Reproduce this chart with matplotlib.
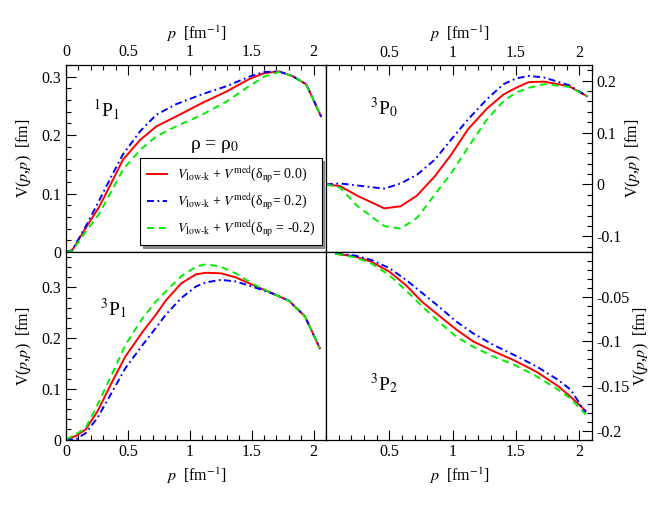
import matplotlib
matplotlib.use("Agg")
import matplotlib.pyplot as plt
from matplotlib.ticker import MultipleLocator, FuncFormatter

plt.rcParams['font.family'] = ['Liberation Serif', 'DejaVu Serif']
plt.rcParams['mathtext.fontset'] = 'stix'
plt.rcParams['axes.unicode_minus'] = False
plt.rcParams['lines.scale_dashes'] = False

# 1P1 channel
p_1p1 = [0, 0.05, 0.15, 0.27, 0.38, 0.46, 0.6, 0.73, 0.89, 1.1, 1.3, 1.48, 1.6, 1.72, 1.83, 1.94, 2.06]
v_1p1_00 = [0, 0.003, 0.038, 0.078, 0.124, 0.158, 0.192, 0.215, 0.232, 0.255, 0.275, 0.296, 0.306, 0.309, 0.301, 0.287, 0.232]
v_1p1_p2 = [0, 0.003, 0.040, 0.089, 0.135, 0.167, 0.207, 0.235, 0.253, 0.270, 0.284, 0.300, 0.308, 0.309, 0.301, 0.287, 0.232]
v_1p1_m2 = [0, 0.002, 0.032, 0.066, 0.109, 0.141, 0.175, 0.198, 0.215, 0.235, 0.258, 0.284, 0.300, 0.308, 0.301, 0.287, 0.232]

# 3P0 channel
p_3p0 = [0.0, 0.11, 0.25, 0.46, 0.59, 0.72, 0.86, 0.99, 1.12, 1.27, 1.40, 1.50, 1.60, 1.72, 1.92, 2.06]
v_3p0_00 = [0, -0.003, -0.022, -0.046, -0.042, -0.021, 0.016, 0.058, 0.106, 0.146, 0.173, 0.186, 0.197, 0.198, 0.189, 0.170]
v_3p0_p2 = [0, 0.002, -0.002, -0.008, 0.002, 0.019, 0.048, 0.087, 0.125, 0.164, 0.193, 0.204, 0.209, 0.206, 0.191, 0.170]
v_3p0_m2 = [0, -0.006, -0.042, -0.080, -0.085, -0.064, -0.019, 0.022, 0.071, 0.125, 0.160, 0.177, 0.186, 0.193, 0.188, 0.170]

# 3P1 channel
p_3p1 = [0, 0.08, 0.16, 0.255, 0.375, 0.48, 0.62, 0.725, 0.805, 0.93, 1.05, 1.13, 1.25, 1.37, 1.50, 1.66, 1.80, 1.93, 2.05]
v_3p1_00 = [0, 0.007, 0.020, 0.056, 0.115, 0.164, 0.213, 0.246, 0.274, 0.308, 0.326, 0.329, 0.328, 0.320, 0.306, 0.289, 0.274, 0.243, 0.180]
v_3p1_p2 = [0, 0.000, 0.013, 0.043, 0.095, 0.141, 0.187, 0.220, 0.246, 0.279, 0.302, 0.310, 0.315, 0.312, 0.302, 0.289, 0.274, 0.243, 0.180]
v_3p1_m2 = [0, 0.010, 0.023, 0.069, 0.131, 0.187, 0.240, 0.272, 0.292, 0.322, 0.341, 0.346, 0.341, 0.328, 0.308, 0.289, 0.274, 0.243, 0.180]

# 3P2 channel
p_3p2 = [0.08, 0.23, 0.36, 0.50, 0.63, 0.76, 0.89, 1.03, 1.16, 1.32, 1.48, 1.66, 1.83, 1.93, 2.05]
v_3p2_00 = [-0.002, -0.005, -0.011, -0.022, -0.037, -0.056, -0.071, -0.087, -0.100, -0.111, -0.121, -0.134, -0.150, -0.162, -0.178]
v_3p2_p2 = [-0.002, -0.004, -0.009, -0.018, -0.031, -0.046, -0.061, -0.078, -0.091, -0.104, -0.115, -0.128, -0.143, -0.154, -0.180]
v_3p2_m2 = [-0.002, -0.006, -0.013, -0.026, -0.043, -0.061, -0.078, -0.095, -0.106, -0.117, -0.126, -0.139, -0.154, -0.164, -0.182]

deltas = ["0.0", "0.2", "-0.2"]
labels = [r"$V_{\mathrm{low\text{-}k}}$ + $V^{\mathrm{med}}$(δ$_{\mathrm{np}}$= " + d + ")" for d in deltas]
labels[2] = labels[2].replace("= -", " = -")

W, H = 654, 505
fig = plt.figure(figsize=(W / 100, H / 100), dpi=100)

def box(x0, y0, x1, y1):
    return [x0 / W, 1 - y1 / H, (x1 - x0) / W, (y1 - y0) / H]

ax_tl = fig.add_axes(box(66, 65, 326, 252))
ax_tr = fig.add_axes(box(326, 65, 592, 252))
ax_bl = fig.add_axes(box(66, 252, 326, 439.5))
ax_br = fig.add_axes(box(326, 252, 592, 439.5))

fmt = FuncFormatter(lambda v, pos: f"{v:g}")
xlab = r"$p$  [fm$^{-1}$]"
ylab = r"V($p$,$p$)  [fm]"


def draw(ax, p, v0, vp, vm):
    l1, = ax.plot(p, v0, color='#ff0000', lw=1.4)
    l2, = ax.plot(p, vp, color='#0000ff', lw=1.4, linestyle=(0, (5, 2.5, 1.3, 2.5)))
    l3, = ax.plot(p, vm, color='#00ee00', lw=1.4, linestyle=(0, (5, 3.5)))
    return [l1, l2, l3]


def style(ax, top, left, yticks, ymin, ymax, yminor):
    ax.set_xlim(0, 2.1)
    ax.set_ylim(ymin, ymax)
    ax.xaxis.set_minor_locator(MultipleLocator(0.1))
    ax.yaxis.set_minor_locator(MultipleLocator(yminor))
    ax.set_yticks(yticks)
    ax.xaxis.set_major_formatter(fmt)
    ax.yaxis.set_major_formatter(fmt)
    ax.tick_params(which='both', direction='in', width=0.8, labelsize=11.5,
                   top=top, bottom=not top, labeltop=top, labelbottom=not top,
                   left=left, right=not left, labelleft=left, labelright=not left,
                   pad=3.5 if left else 3)
    ax.tick_params(which='major', length=7)
    ax.tick_params(which='minor', length=3.6)
    for s in ax.spines.values():
        s.set_linewidth(0.9)
    if top:
        ax.xaxis.set_label_position('top')
    if not left:
        ax.yaxis.set_label_position('right')
    ax.set_xlabel(xlab, fontsize=11.5, labelpad=4)
    ax.set_ylabel(ylab, fontsize=11.5, labelpad=5 if left else 2, rotation=90)


lines = draw(ax_tl, p_1p1, v_1p1_00, v_1p1_p2, v_1p1_m2)
draw(ax_tr, p_3p0, v_3p0_00, v_3p0_p2, v_3p0_m2)
draw(ax_bl, p_3p1, v_3p1_00, v_3p1_p2, v_3p1_m2)
draw(ax_br, p_3p2, v_3p2_00, v_3p2_p2, v_3p2_m2)

style(ax_tl, True, True, [0, 0.1, 0.2, 0.3], 0, 0.32, 0.02)
style(ax_tr, True, False, [-0.1, 0, 0.1, 0.2], -0.13, 0.23, 0.02)
style(ax_bl, False, True, [0, 0.1, 0.2, 0.3], 0, 0.37, 0.02)
style(ax_br, False, False, [-0.2, -0.15, -0.1, -0.05], -0.21, 0, 0.01)
ax_tl.set_xticks([0, 0.5, 1, 1.5, 2])
ax_bl.set_xticks([0, 0.5, 1, 1.5, 2])
ax_tr.set_xticks([0.5, 1, 1.5, 2])
ax_br.set_xticks([0.5, 1, 1.5, 2])

ax_tl.text(0.105, 0.76, r"$^{1}$P$_{1}$", transform=ax_tl.transAxes, fontsize=14, va='center')
ax_tr.text(0.165, 0.77, r"$^{3}$P$_{0}$", transform=ax_tr.transAxes, fontsize=14, va='center')
ax_bl.text(0.13, 0.70, r"$^{3}$P$_{1}$", transform=ax_bl.transAxes, fontsize=14, va='center')
ax_br.text(0.165, 0.30, r"$^{3}$P$_{2}$", transform=ax_br.transAxes, fontsize=14, va='center')
ax_tl.text(0.57, 0.565, r"ρ = ρ$_{0}$", transform=ax_tl.transAxes, fontsize=14,
           ha='center', va='center')

leg = ax_tl.legend(lines, labels, loc='lower right', bbox_to_anchor=(0.983, 0.037),
                   fontsize=10, frameon=True, fancybox=False, shadow={'color': '0.55', 'alpha': 1},
                   handlelength=1.45, handletextpad=0.75, borderpad=0.45, labelspacing=0.5,
                   borderaxespad=0)
leg.get_frame().set_edgecolor('black')
leg.get_frame().set_linewidth(0.8)

fig.savefig("out.png", dpi=100)
